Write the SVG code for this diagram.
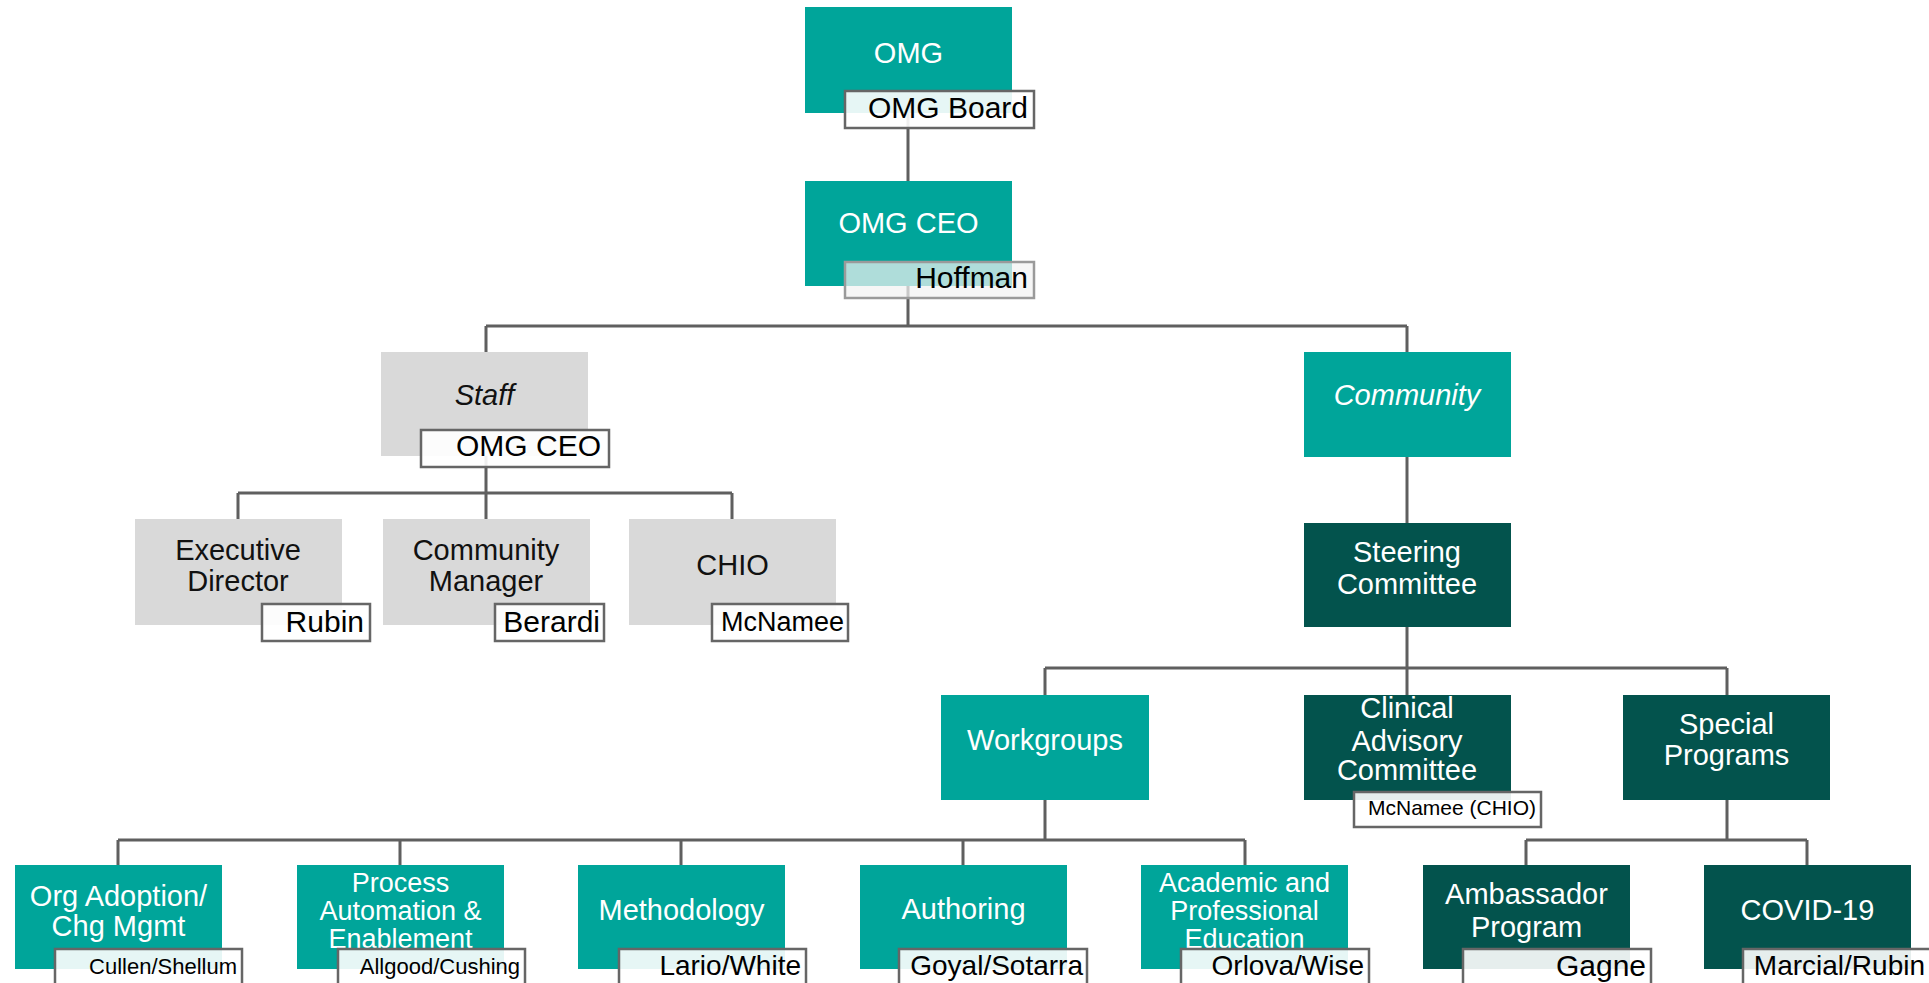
<svg xmlns="http://www.w3.org/2000/svg" width="1929" height="983" viewBox="0 0 1929 983">
<style>
.teal{fill:#00A59A}
.dark{fill:#03534D}
.gray{fill:#D9D9D9}
.t{font-family:"Liberation Sans",Arial,sans-serif;font-size:29px;text-anchor:middle}
.w{fill:#FFFFFF}
.k{fill:#111111}
.b{font-size:27px}
.lab{fill:#FFFFFF;fill-opacity:0.9;stroke:#666666;stroke-width:2.5}
.labg{fill:#F2F2F2;fill-opacity:0.72;stroke:#9A9A9A;stroke-width:2.5}
.lt{font-family:"Liberation Sans",Arial,sans-serif;font-size:29px;text-anchor:end;fill:#000000}
.conn{fill:none;stroke:#5F5F5F;stroke-width:3}
</style>
<rect width="1929" height="983" fill="#FFFFFF"/>
<g id="connectors" class="conn">
<path d="M908 113V181"/>
<path d="M908 286V326M486 326H1407M486 326V352M1407 326V352"/>
<path d="M486 456V493M238 493H732M238 493V519M486 493V519M732 493V519"/>
<path d="M1407 457V523"/>
<path d="M1407 627V668M1045 668H1727M1045 668V695M1407 668V695M1727 668V695"/>
<path d="M1045 800V840M118 840H1245M118 840V865M400 840V865M681 840V865M963 840V865M1245 840V865"/>
<path d="M1727 800V840M1526 840H1807M1526 840V865M1807 840V865"/>
</g>
<g id="omg">
<rect class="teal" x="805" y="7" width="207" height="106"/>
<text class="t w" x="908.5" y="63">OMG</text>
<rect class="lab" x="845" y="91" width="189" height="37"/>
<text class="lt" x="1028" y="118" style="font-size:30px">OMG Board</text>
</g>
<g id="omg-ceo">
<rect class="teal" x="805" y="181" width="207" height="105"/>
<text class="t w" x="908.5" y="233">OMG CEO</text>
<rect class="labg" x="845" y="262" width="189" height="36"/>
<text class="lt" x="1028" y="288" style="font-size:30px">Hoffman</text>
</g>
<g id="staff">
<rect class="gray" x="381" y="352" width="207" height="104"/>
<text class="t k" x="484.5" y="405" font-style="italic">Staff</text>
<rect class="lab" x="421" y="430" width="188" height="37"/>
<text class="lt" x="601" y="456" style="font-size:30px">OMG CEO</text>
</g>
<g id="community">
<rect class="teal" x="1304" y="352" width="207" height="105"/>
<text class="t w" x="1407" y="405" font-style="italic">Community</text>
</g>
<g id="executive-director">
<rect class="gray" x="135" y="519" width="207" height="106"/>
<text class="t k" x="238" y="560">Executive</text>
<text class="t k" x="238" y="591">Director</text>
<rect class="lab" x="262" y="604" width="108" height="37"/>
<text class="lt" x="364" y="632" style="font-size:30px">Rubin</text>
</g>
<g id="community-manager">
<rect class="gray" x="383" y="519" width="207" height="106"/>
<text class="t k" x="486" y="560">Community</text>
<text class="t k" x="486" y="591">Manager</text>
<rect class="lab" x="495" y="604" width="109" height="37"/>
<text class="lt" x="600" y="632" style="font-size:30px">Berardi</text>
</g>
<g id="chio">
<rect class="gray" x="629" y="519" width="207" height="106"/>
<text class="t k" x="732.5" y="575">CHIO</text>
<rect class="lab" x="712" y="604" width="136" height="37"/>
<text class="lt" x="844" y="631" style="font-size:27px">McNamee</text>
</g>
<g id="steering-committee">
<rect class="dark" x="1304" y="523" width="207" height="104"/>
<text class="t w" x="1407" y="562">Steering</text>
<text class="t w" x="1407" y="594">Committee</text>
</g>
<g id="workgroups">
<rect class="teal" x="941" y="695" width="208" height="105"/>
<text class="t w" x="1045" y="750">Workgroups</text>
</g>
<g id="clinical-advisory-committee">
<rect class="dark" x="1304" y="695" width="207" height="105"/>
<text class="t w" x="1407" y="718">Clinical</text>
<text class="t w" x="1407" y="751">Advisory</text>
<text class="t w" x="1407" y="780">Committee</text>
<rect class="lab" x="1354" y="792" width="187" height="35"/>
<text class="lt" x="1536" y="815" style="font-size:21px">McNamee (CHIO)</text>
</g>
<g id="special-programs">
<rect class="dark" x="1623" y="695" width="207" height="105"/>
<text class="t w" x="1726.5" y="734">Special</text>
<text class="t w" x="1726.5" y="765">Programs</text>
</g>
<g id="org-adoption">
<rect class="teal" x="15" y="865" width="207" height="104"/>
<text class="t w" x="118.5" y="906">Org Adoption/</text>
<text class="t w" x="118.5" y="936">Chg Mgmt</text>
<rect class="lab" x="55" y="949" width="187" height="40"/>
<text class="lt" x="237" y="974" style="font-size:22px">Cullen/Shellum</text>
</g>
<g id="process-automation">
<rect class="teal" x="297" y="865" width="207" height="104"/>
<text class="t w b" x="400.5" y="892">Process</text>
<text class="t w b" x="400.5" y="920">Automation &amp;</text>
<text class="t w b" x="400.5" y="948">Enablement</text>
<rect class="lab" x="338" y="949" width="187" height="40"/>
<text class="lt" x="520" y="974" style="font-size:22px">Allgood/Cushing</text>
</g>
<g id="methodology">
<rect class="teal" x="578" y="865" width="207" height="104"/>
<text class="t w" x="681.5" y="920">Methodology</text>
<rect class="lab" x="619" y="949" width="187" height="40"/>
<text class="lt" x="801" y="975" style="font-size:28px">Lario/White</text>
</g>
<g id="authoring">
<rect class="teal" x="860" y="865" width="207" height="104"/>
<text class="t w" x="963.5" y="919">Authoring</text>
<rect class="lab" x="899" y="949" width="188" height="40"/>
<text class="lt" x="1083" y="975" style="font-size:28px">Goyal/Sotarra</text>
</g>
<g id="academic-education">
<rect class="teal" x="1141" y="865" width="207" height="104"/>
<text class="t w b" x="1244.5" y="892">Academic and</text>
<text class="t w b" x="1244.5" y="920">Professional</text>
<text class="t w b" x="1244.5" y="948">Education</text>
<rect class="lab" x="1181" y="949" width="188" height="40"/>
<text class="lt" x="1364" y="975" style="font-size:28px">Orlova/Wise</text>
</g>
<g id="ambassador-program">
<rect class="dark" x="1423" y="865" width="207" height="104"/>
<text class="t w" x="1526.5" y="904">Ambassador</text>
<text class="t w" x="1526.5" y="937">Program</text>
<rect class="lab" x="1463" y="949" width="188" height="40"/>
<text class="lt" x="1646" y="976" style="font-size:30px">Gagne</text>
</g>
<g id="covid-19">
<rect class="dark" x="1704" y="865" width="207" height="104"/>
<text class="t w" x="1807.5" y="920">COVID-19</text>
<rect class="lab" x="1743" y="949" width="190" height="40"/>
<text class="lt" x="1925" y="975" style="font-size:28px">Marcial/Rubin</text>
</g>
</svg>
